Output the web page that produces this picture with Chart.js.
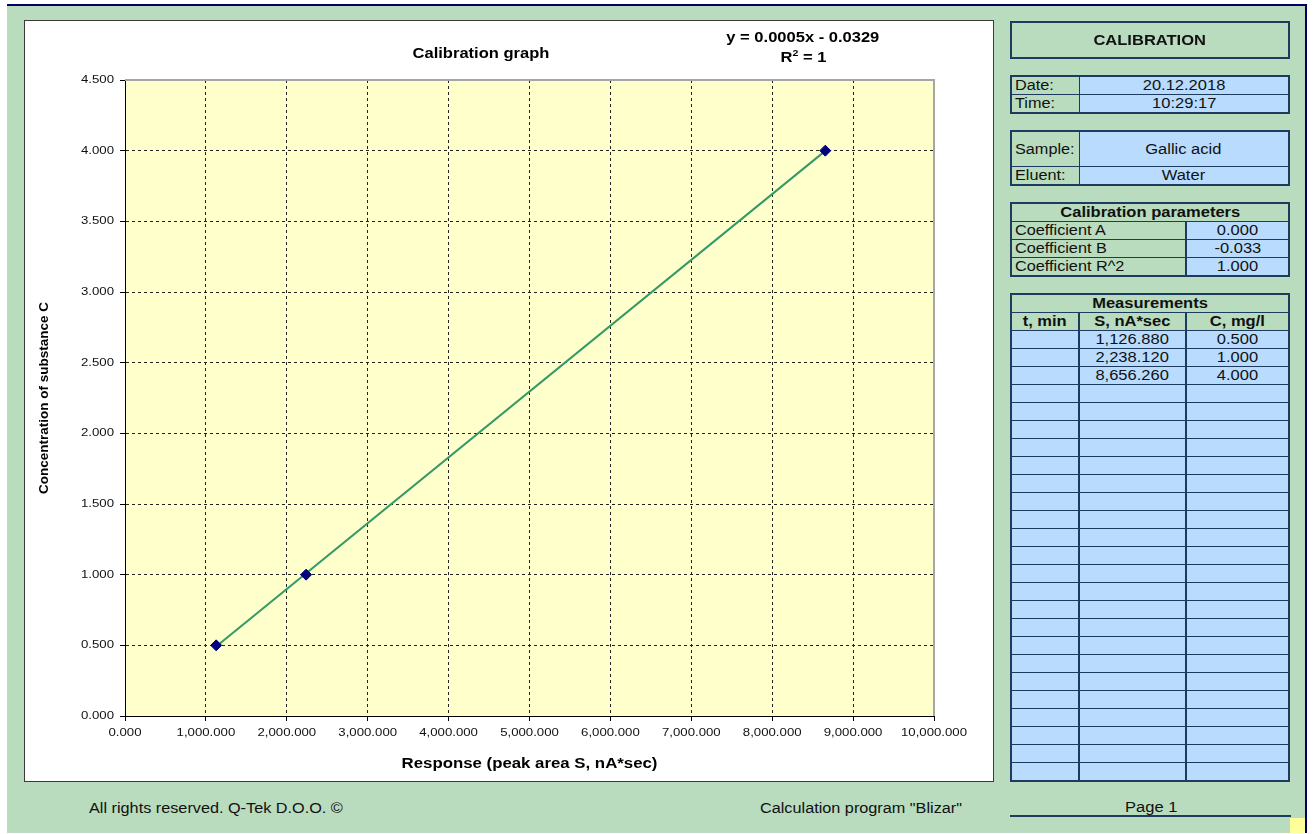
<!DOCTYPE html>
<html>
<head>
<meta charset="utf-8">
<title>Calibration</title>
<script src="https://cdn.jsdelivr.net/npm/chart.js@4/dist/chart.umd.min.js"></script>
<style>
  html, body { margin: 0; padding: 0; background: #fff; width: 1314px; height: 834px; overflow: hidden;
    font-family: "Liberation Sans", Arial, sans-serif; color: #000; }
  #sheet { position: absolute; left: 7px; top: 4px; width: 1298px; height: 827px; background: #b9dbbe;
    border-top: 2px solid #000066; border-right: 2px solid #000066; }
  #chartbox { position: absolute; left: 24px; top: 20px; width: 968px; height: 760px;
    border: 1px solid #3a3a3a; background: #fff; }
  #chartbox canvas { display: block; }
  .txt { position: absolute; white-space: nowrap; }
  /* wide lettering used throughout the report sheet */
  .sx { display: inline-block; transform: scaleX(1.18); transform-origin: 50% 50%; }
  .sxl { display: inline-block; transform: scaleX(1.16); transform-origin: 0 50%; }
  .ctitle { left: 381px; top: 45px; width: 200px; text-align: center; font: bold 14px "Liberation Sans", Arial, sans-serif; line-height: 17px; }
  .eq { left: 683px; width: 240px; text-align: center; font: bold 14px "Liberation Sans", Arial, sans-serif; line-height: 17px; }
  .eq sup { font-size: 9px; line-height: 0; vertical-align: 6px; }
  table.box { position: absolute; left: 1010px; width: 280px; border-collapse: collapse; table-layout: fixed;
    font: 14px "Liberation Sans", Arial, sans-serif; color: #111; }
  table.box td { border: 1px solid #1c3b5e; padding: 0; height: 17px; line-height: 17px; overflow: hidden; white-space: nowrap; }
  table.box { border: 2px solid #1c3b5e; }
  table.box td.v { background: #b9dcfe; text-align: center; }
  table.box td.l { background: #b9dbbe; text-align: left; padding-left: 3px; }
  table.box td.h { background: #b9dbbe; text-align: center; font-weight: bold; }
  table.box td.c { border-left: 2px solid #1c3b5e; border-right: 2px solid #1c3b5e; }
  #title-box { position: absolute; left: 1010px; top: 21px; width: 276px; height: 34px; border: 2px solid #1c3b5e;
    text-align: center; font: bold 14px "Liberation Sans", Arial, sans-serif; line-height: 34px; color: #111; }
  .foot { font: 14px "Liberation Sans", Arial, sans-serif; color: #111; }
  #pageline { position: absolute; left: 1010px; top: 815px; width: 281px; height: 2px; background: #1c3b5e; }
  #corner { position: absolute; left: 1290px; top: 818px; width: 15px; height: 15px; background: #ffff99; }
</style>
</head>
<body>
<div id="sheet"></div>

<div id="chartbox"><canvas id="cal" width="968" height="760"></canvas></div>
<div class="txt ctitle"><span class="sx">Calibration graph</span></div>
<div class="txt eq" style="top:29px"><span class="sx">y = 0.0005x - 0.0329</span></div>
<div class="txt eq" style="top:49px"><span class="sx">R<sup>2</sup> = 1</span></div>

<div id="title-box"><span class="sx">CALIBRATION</span></div>

<table class="box" style="top:75px">
  <colgroup><col style="width:68px"><col></colgroup>
  <tr><td class="l"><span class="sxl">Date:</span></td><td class="v"><span class="sx" id="dateCell"></span></td></tr>
  <tr><td class="l"><span class="sxl">Time:</span></td><td class="v"><span class="sx" id="timeCell"></span></td></tr>
</table>

<table class="box" style="top:130px">
  <colgroup><col style="width:68px"><col></colgroup>
  <tr><td class="l" style="height:34px;line-height:34px"><span class="sxl">Sample:</span></td><td class="v" style="height:34px;line-height:34px"><span class="sx" id="sampleCell"></span></td></tr>
  <tr><td class="l"><span class="sxl">Eluent:</span></td><td class="v"><span class="sx" id="eluentCell"></span></td></tr>
</table>

<table class="box" id="paramTable" style="top:202px">
  <colgroup><col style="width:175px"><col></colgroup>
  <tr><td class="h" colspan="2"><span class="sx">Calibration parameters</span></td></tr>
</table>

<table class="box" id="measTable" style="top:293px">
  <colgroup><col style="width:68px"><col style="width:107px"><col></colgroup>
  <tr><td class="h" colspan="3"><span class="sx">Measurements</span></td></tr>
</table>

<div class="txt foot" style="left:89px; top:800px;"><span class="sxl">All rights reserved. Q-Tek D.O.O. ©</span></div>
<div class="txt foot" style="left:760px; top:800px;"><span class="sxl">Calculation program "Blizar"</span></div>
<div class="txt foot" style="left:1091px; top:799px; width:120px; text-align:center;"><span class="sx">Page 1</span></div>
<div id="pageline"></div>
<div id="corner"></div>

<script>
// Calibration standards: peak area S (nA*sec) and concentration C (mg/l)
const responseS = [1126.88, 2238.12, 8656.26];
const concC = [0.5, 1.0, 4.0];
const retentionT = ['', '', ''];

// Linear trendline end points (least-squares fit over the measured range)
const trendS = [1126.88, 8656.26];
const trendC = [0.4919, 3.9986];

// Calibration parameters shown in the side panel
const paramNames = ['Coefficient A', 'Coefficient B', 'Coefficient R^2'];
const paramValues = [0.000466, -0.0329, 1.0];

// Measurement table header labels and number of rows
const measHeaders = ['t, min', 'S, nA*sec', 'C, mg/l'];
const measRowCount = 25;

// Run information
const runInfo = { date: '20.12.2018', time: '10:29:17', sample: 'Gallic acid', eluent: 'Water' };

// Axis ranges and steps
const xRange = [0, 10000], xStep = 1000;
const yRange = [0, 4.5], yStep = 0.5;

const FONT = '"Liberation Sans", Arial, sans-serif';
const TEXT_STRETCH = 1.2;
const fmtS = v => v.toLocaleString('en-US', { minimumFractionDigits: 3, maximumFractionDigits: 3 });
const fmtC = v => v.toFixed(3);

function spanText(cls, text) {
  const s = document.createElement('span');
  s.className = cls;
  s.textContent = text;
  return s;
}

// Side panel
document.getElementById('dateCell').textContent = runInfo.date;
document.getElementById('timeCell').textContent = runInfo.time;
document.getElementById('sampleCell').textContent = runInfo.sample;
document.getElementById('eluentCell').textContent = runInfo.eluent;

const pt = document.getElementById('paramTable');
paramNames.forEach((name, i) => {
  const tr = pt.insertRow();
  const a = tr.insertCell(); a.className = 'l'; a.appendChild(spanText('sxl', name));
  const b = tr.insertCell(); b.className = 'v'; b.appendChild(spanText('sx', fmtC(paramValues[i])));
  b.style.borderLeft = '2px solid #1c3b5e';
});

const mt = document.getElementById('measTable');
{
  const tr = mt.insertRow();
  measHeaders.forEach((h, j) => {
    const c = tr.insertCell(); c.className = 'h' + (j === 1 ? ' c' : ''); c.appendChild(spanText('sx', h));
  });
}
for (let r = 0; r < measRowCount; r++) {
  const tr = mt.insertRow();
  const vals = r < responseS.length ? [retentionT[r], fmtS(responseS[r]), fmtC(concC[r])] : ['', '', ''];
  vals.forEach((v, j) => {
    const c = tr.insertCell(); c.className = 'v' + (j === 1 ? ' c' : '');
    if (v) c.appendChild(spanText('sx', v)); else c.innerHTML = '&nbsp;';
  });
}

// Horizontal text stretch on the chart canvas (horizontal text only; rotated text is left as is)
const canvas = document.getElementById('cal');
const ctx2d = canvas.getContext('2d');
const baseFillText = ctx2d.fillText.bind(ctx2d);
ctx2d.fillText = function (text, x, y, maxWidth) {
  const m = this.getTransform();
  if (Math.abs(m.b) > 1e-6 || Math.abs(m.c) > 1e-6) {
    return maxWidth === undefined ? baseFillText(text, x, y) : baseFillText(text, x, y, maxWidth);
  }
  this.save();
  this.translate(x, y);
  this.scale(TEXT_STRETCH, 1);
  baseFillText(text, 0, 0);
  this.restore();
};

// Plot-area fill and the light frame on the top and right edges
const plotFrame = {
  id: 'plotFrame',
  beforeDraw(chart) {
    const { ctx, chartArea: a } = chart;
    ctx.save();
    ctx.fillStyle = '#ffffcc';
    ctx.fillRect(a.left, a.top, a.right - a.left, a.bottom - a.top);
    ctx.restore();
  },
  beforeDatasetsDraw(chart) {
    const { ctx, chartArea: a } = chart;
    ctx.save();
    ctx.strokeStyle = '#a6a6a6';
    ctx.lineWidth = 2;
    ctx.beginPath();
    ctx.moveTo(a.left, a.top);
    ctx.lineTo(a.right, a.top);
    ctx.lineTo(a.right, a.bottom);
    ctx.stroke();
    ctx.restore();
  }
};

new Chart(canvas, {
  type: 'scatter',
  data: {
    datasets: [
      {
        label: 'Linear fit',
        data: trendS.map((x, i) => ({ x, y: trendC[i] })),
        showLine: true,
        borderColor: '#339966',
        borderWidth: 2,
        pointRadius: 0,
        order: 2
      },
      {
        label: 'Standards',
        data: responseS.map((x, i) => ({ x, y: concC[i] })),
        pointStyle: 'rectRot',
        pointRadius: 5.5,
        backgroundColor: '#000080',
        borderColor: '#000080',
        borderWidth: 1,
        order: 1
      }
    ]
  },
  options: {
    responsive: false,
    animation: false,
    layout: { padding: { top: 59, right: 59, left: 0, bottom: 0 } },
    plugins: { legend: { display: false }, tooltip: { enabled: false } },
    scales: {
      x: {
        type: 'linear', min: xRange[0], max: xRange[1],
        ticks: { stepSize: xStep, callback: v => fmtS(v), font: { family: FONT, size: 11 }, color: '#111',
                 padding: 5, maxRotation: 0, autoSkip: false },
        grid: { color: '#222', lineWidth: 1, tickLength: 5, tickColor: '#000' },
        border: { display: true, color: '#000', width: 1, dash: [3, 3] },
        title: { display: true, text: 'Response (peak area S, nA*sec)', color: '#000',
                 font: { family: FONT, size: 14, weight: 'bold' }, padding: { top: 0, bottom: 8 } },
        afterFit(s) { s.height = 65; }
      },
      y: {
        type: 'linear', min: yRange[0], max: yRange[1],
        ticks: { stepSize: yStep, callback: v => fmtC(v), font: { family: FONT, size: 11 }, color: '#111', padding: 6 },
        grid: { color: '#222', lineWidth: 1, tickLength: 5, tickColor: '#000' },
        border: { display: true, color: '#000', width: 1, dash: [3, 3] },
        title: { display: true, text: 'Concentration of substance C', color: '#000',
                 font: { family: FONT, size: 13.5, weight: 'bold' }, padding: { top: 11, bottom: 0 } },
        afterFit(s) { s.width = 100; }
      }
    }
  },
  plugins: [plotFrame]
});
</script>
</body>
</html>
